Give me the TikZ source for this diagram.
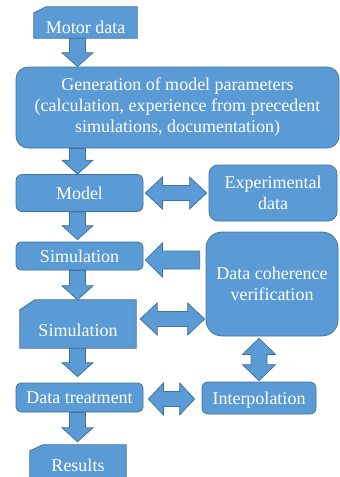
\documentclass[tikz,border=0pt]{standalone}
\usepackage{fontspec}
\setmainfont{Liberation Serif}
\usetikzlibrary{calc}
\definecolor{boxblue}{HTML}{5B9BD5}
\definecolor{boxline}{HTML}{41719C}
\tikzstyle{textfont}=[font=\fontsize{18}{21}\selectfont, text=white, inner sep=0pt]
\tikzstyle{block}=[textfont, fill=boxblue, draw=boxline, line width=0.75pt]
\tikzstyle{oneline}=[text height=12pt, text depth=0pt]
\tikzstyle{cutnode}=[textfont, text depth=0pt]
\tikzstyle{cutfill}=[fill=boxblue, draw=boxline, line width=0.75pt]
\tikzstyle{arrowfill}=[fill=boxblue, draw=boxline, line width=0.75pt, line join=miter]
\pgfdeclarelayer{back}
\pgfsetlayers{back,main}

% box with the top left corner cut off: node, cut width, cut height
\newcommand{\cutBox}[3]{%
  \path[cutfill] (#1.south west) -- ($(#1.north west)+(0,#3)$)
    -- ($(#1.north west)+(#2,0)$) -- (#1.north east) -- (#1.south east) -- cycle;}

% block arrow: tail, tip, half shaft, half head, head length
\newcommand{\blockArrow}[5]{%
  \coordinate (ah) at ($(#2)!#5!(#1)$);
  \path[arrowfill] ($(#1)!#3!90:(#2)$) -- ($(ah)!#3!-90:(#1)$)
    -- ($(ah)!#4!-90:(#1)$) -- (#2) -- ($(ah)!#4!90:(#1)$)
    -- ($(ah)!#3!90:(#1)$) -- ($(#1)!#3!-90:(#2)$) -- cycle;}

% block arrow with two heads
\newcommand{\blockDArrow}[5]{%
  \coordinate (ha) at ($(#1)!#5!(#2)$);
  \coordinate (hb) at ($(#2)!#5!(#1)$);
  \path[arrowfill] (#1) -- ($(ha)!#4!90:(#2)$) -- ($(ha)!#3!90:(#2)$)
    -- ($(hb)!#3!-90:(#1)$) -- ($(hb)!#4!-90:(#1)$) -- (#2)
    -- ($(hb)!#4!90:(#1)$) -- ($(hb)!#3!90:(#1)$)
    -- ($(ha)!#3!-90:(#2)$) -- ($(ha)!#4!-90:(#2)$) -- cycle;}

\begin{document}
\begin{tikzpicture}[x=1pt, y=-1pt]
  \useasboundingbox (0,0) rectangle (340,477);
  \coordinate (col) at (77.5,0);

  \node[cutnode, text height=21pt, minimum width=103pt, minimum height=31pt] (motor) at (85.5,22.5) {Motor data};
  \node[block, rounded corners=12pt, minimum width=323pt, minimum height=81pt, align=center] (gen) at (177.5,107.5)
    {Generation of model parameters\\(calculation, experience from precedent\\simulations, documentation)};
  \node[block, oneline, rounded corners=6pt, minimum width=127pt, minimum height=37pt] (model) at (79.5,193) {Model};
  \node[block, rounded corners=9pt, minimum width=128pt, minimum height=56pt, align=center] (exp) at (273,193) {Experimental\\data};
  \node[block, oneline, rounded corners=5pt, minimum width=127pt, minimum height=28pt] (sim) at (79.5,256) {Simulation};
  \node[block, rounded corners=16pt, minimum width=132pt, minimum height=104pt, align=center] (dcv) at (272,284) {Data coherence\\verification};
  \node[cutnode, text height=24pt, minimum width=116pt, minimum height=48pt] (sim2) at (78,324) {Simulation};
  \node[block, oneline, rounded corners=5pt, minimum width=127pt, minimum height=29pt] (treat) at (79.5,397.5) {Data treatment};
  \node[block, oneline, rounded corners=6pt, minimum width=114pt, minimum height=32pt] (interp) at (259,398) {Interpolation};
  \node[cutnode, text height=19pt, minimum width=96pt, minimum height=33pt] (results) at (78,461.5) {Results};

  \begin{pgfonlayer}{back}
    \cutBox{motor}{12}{6}
    \cutBox{sim2}{15}{10}
    \cutBox{results}{13}{6}
  \end{pgfonlayer}

  % down the left column
  \coordinate (simtop) at ($(sim.north -| col)+(0,-2)$);
  \coordinate (treattop) at ($(treat.north -| col)+(0,-6)$);
  \coordinate (restop) at ($(results.north -| col)+(0,-3)$);
  \blockArrow{motor.south -| col}{gen.north -| col}{8pt}{15.5pt}{14pt}
  \blockArrow{gen.south -| col}{model.north -| col}{8pt}{15.5pt}{14pt}
  \blockArrow{model.south -| col}{simtop}{8pt}{15.5pt}{14pt}
  \blockArrow{sim.south -| col}{sim2.north -| col}{8pt}{15.5pt}{14pt}
  \blockArrow{sim2.south -| col}{treattop}{8pt}{15.5pt}{14pt}
  \blockArrow{treat.south -| col}{restop}{8pt}{15.5pt}{14pt}

  % links to the right column
  \coordinate (m1) at ($(model.east)+(2,0)$);
  \coordinate (e1) at ($(exp.west)+(-2,0)$);
  \blockDArrow{m1}{e1}{7.5pt}{16pt}{17pt}
  \coordinate (s1) at ($(sim.east)+(2,4)$);
  \coordinate (d1) at ($(dcv.west |- s1)+(-6,0)$);
  \blockArrow{d1}{s1}{9pt}{17pt}{17pt}
  \coordinate (s2) at ($(sim2.east)+(4,-5)$);
  \coordinate (d2) at ($(dcv.west |- s2)+(-1,0)$);
  \blockDArrow{s2}{d2}{7.5pt}{16pt}{17pt}
  \coordinate (t1) at ($(treat.east)+(5,1.5)$);
  \coordinate (i1) at ($(interp.west |- t1)+(-7,0)$);
  \blockDArrow{t1}{i1}{7.5pt}{16pt}{15pt}
  \coordinate (d3) at ($(dcv.south -| interp.north)+(0,2)$);
  \coordinate (i2) at ($(interp.north)+(0,-1)$);
  \blockDArrow{d3}{i2}{8pt}{16.5pt}{16pt}
\end{tikzpicture}
\end{document}
